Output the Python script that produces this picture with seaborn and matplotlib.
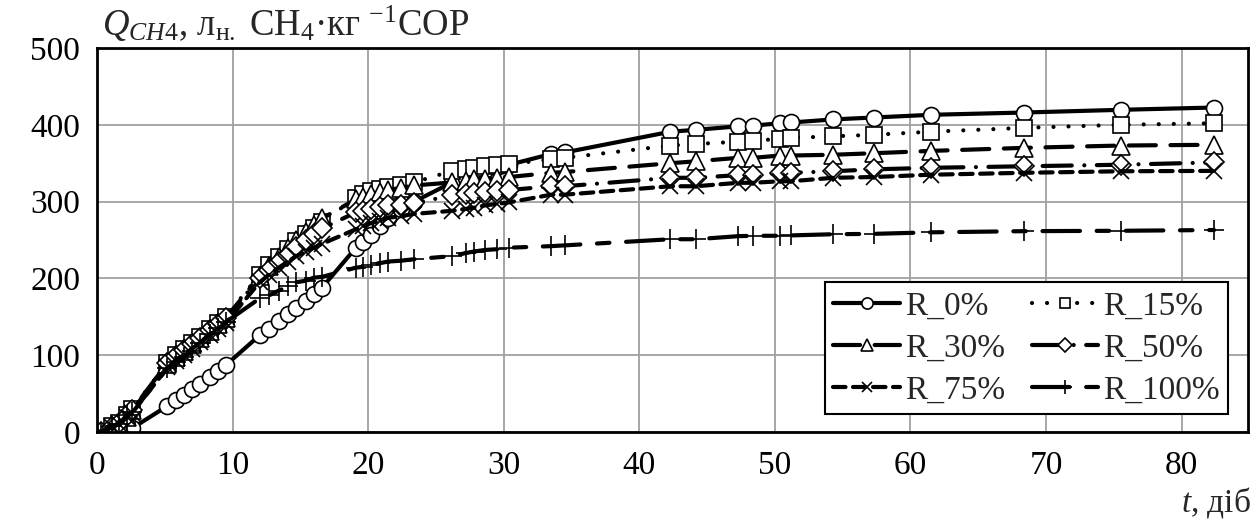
import numpy as np
import pandas as pd
import matplotlib
matplotlib.use("Agg")
import matplotlib.pyplot as plt
import seaborn as sns

# ---- data ----
t = [0.3, 1.1, 1.6, 2.2, 2.6,
     5.2, 5.8, 6.4, 7.0, 7.6, 8.3, 8.9, 9.5,
     12.0, 12.7, 13.4, 14.1, 14.7, 15.4, 16.0, 16.6,
     19.1, 19.6, 20.2, 20.9, 21.5, 22.4, 23.4,
     26.2, 27.2, 27.8, 28.6, 29.5, 30.4, 33.5, 34.5,
     42.3, 44.2, 47.3, 48.4, 50.4, 51.2, 54.3, 57.3, 61.5, 68.4, 75.5, 82.4]

r0 = [0, 0, 0, 1, 5,
      34, 42, 48, 56, 63, 71, 79, 87,
      126, 134, 145, 154, 162, 171, 180, 188,
      240, 248, 256, 268, 278, 290, 300,
      325, 331, 336, 341, 345, 348, 362, 364,
      391, 393.5, 398, 399, 402, 403, 407, 409.5, 413, 416, 419.5, 422.5]

r15 = [0, 8, 12, 22, 30,
       90, 100, 108, 116, 124, 134, 142, 150,
       205, 218, 228, 238, 249, 258, 266, 274,
       305, 310, 314, 317, 319, 322, 325,
       340, 342, 344, 346, 348, 349, 355, 357,
       373, 375, 378, 379, 382, 383, 385, 387, 391, 396, 400, 402]

r30 = [0, 6, 12, 20, 28,
       88, 98, 106, 114, 122, 132, 140, 148,
       203, 216, 228, 239, 250, 260, 270, 278,
       303, 306, 310, 313, 315, 318, 321,
       325, 327, 329, 330, 331, 332, 337.5, 338.5,
       350, 352.5, 357, 357, 360, 360, 361, 363, 366, 370, 373, 374]

r50 = [0, 7, 12, 21, 29,
       90, 99, 107, 115, 123, 133, 141, 149,
       200, 211, 221, 231, 241, 250, 258, 265,
       286, 288, 290, 293, 295, 296, 298,
       308, 310, 311, 313, 314, 315, 320, 320,
       331, 331, 334.5, 334.5, 337.5, 337.5, 339.5, 342, 344, 346, 348, 351]

r75 = [0, 6, 10, 19, 25,
       84, 93, 100, 108, 117, 126, 134, 142,
       195, 205, 214, 222, 229, 235, 240, 245,
       264, 268, 272, 275, 279, 281, 284,
       288, 290.5, 292, 295, 297, 299, 309, 309,
       320, 320, 324.5, 324.5, 326.5, 326.5, 331, 332, 335, 337.5, 339.5, 340]

r100 = [0.5, 8, 10, 22, 26,
        83, 91, 98, 106, 116, 127, 135, 143,
        174, 178, 184, 190, 195, 197, 201, 202,
        214, 215, 218, 220, 222, 223, 225,
        229, 233, 235, 237, 238, 240, 242, 243,
        251, 251, 255, 255.5, 255.5, 256, 257.5, 258, 260, 261.5, 262, 263]

names = ["R_0%", "R_15%", "R_30%", "R_50%", "R_75%", "R_100%"]
series = [r0, r15, r30, r50, r75, r100]
x_ticks = [0, 10, 20, 30, 40, 50, 60, 70, 80]
y_ticks = [0, 100, 200, 300, 400, 500]

# ---- styles ----
markers = ["o", "s", "^", "D", "x", "+"]
msizes = [11.5, 11, 12.5, 10, 11, 14]
dashes = [None, (0.01, 3.6), (6.5, 3.5), (7, 3, 0.01, 3), (3, 1.8), (9, 4, 3, 4)]

sns.set_style("white")
plt.rcParams["font.family"] = ["Liberation Serif", "DejaVu Serif"]
plt.rcParams["mathtext.fontset"] = "custom"
plt.rcParams["mathtext.rm"] = "Liberation Serif"
plt.rcParams["mathtext.it"] = "Liberation Serif:italic"

FS = 24

fig = plt.figure(figsize=(12.59, 5.27), dpi=100)
ax = fig.add_axes([97 / 1259, 1 - 432 / 527, (1248 - 97) / 1259, (432 - 48) / 527])

df = pd.DataFrame({"t": t})
handles = []
for name, vals, mk, ms, ds in zip(names, series, markers, msizes, dashes):
    df[name] = vals
    sns.lineplot(data=df, x="t", y=name, ax=ax, color="black", lw=3,
                 marker=mk, markersize=ms, markerfacecolor="white",
                 markeredgecolor="black", markeredgewidth=1.2,
                 estimator=None, sort=False, legend=False)
    line = ax.lines[-1]
    if ds is not None:
        line.set_dashes(ds)
    line.set_dash_capstyle("round")
    line.set_solid_capstyle("round")
    line.set_label(name)
    handles.append(line)

ax.set_xlim(0, 84.9)
ax.set_ylim(0, 500)
ax.set_xticks(x_ticks)
ax.set_yticks(y_ticks)
ax.set_xlabel("")
ax.set_ylabel("")
ax.grid(True, color="#a0a0a0", lw=1.3)
ax.set_axisbelow(True)
for s in ax.spines.values():
    s.set_color("black")
    s.set_linewidth(2)
ax.tick_params(direction="in", length=8, width=1.5, labelsize=FS, colors="black")
ax.tick_params(axis="x", pad=13)
ax.tick_params(axis="y", pad=12)

order = [0, 2, 4, 1, 3, 5]
leg = ax.legend([handles[i] for i in order], [names[i] for i in order],
                ncol=2, loc="lower right", bbox_to_anchor=(0.983, 0.047),
                fontsize=FS, frameon=True, fancybox=False, framealpha=1,
                edgecolor="black", handlelength=2.0, handletextpad=0.15,
                columnspacing=0.8, labelspacing=0.35, borderpad=0.25,
                markerscale=0.7, borderaxespad=0)
leg.get_frame().set_linewidth(1.5)

fig.text(102 / 1259, 1 - 36 / 527,
         r"$Q_{CH4}$, л$_{\mathrm{н.}}$ CH$_{4}$·кг $^{\mathrm{-1}}$СОР",
         fontsize=26.5, ha="left", va="baseline")
fig.text(1251 / 1259, 1 - 512 / 527, r"$t$, діб", fontsize=FS,
         ha="right", va="baseline")

fig.savefig("out.png", dpi=100)
